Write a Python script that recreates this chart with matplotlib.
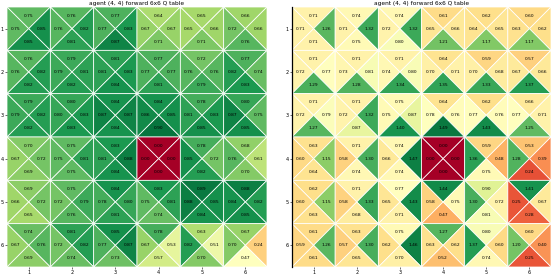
import numpy as np
import matplotlib
matplotlib.use('Agg')
import matplotlib.pyplot as plt
from matplotlib.collections import PolyCollection
from matplotlib.colors import Normalize, TwoSlopeNorm

titulo = 'agent (4, 4) forward 6x6 Q table'
etiquetas = ['1', '2', '3', '4', '5', '6']

# primer panel: arriba, izquierda, derecha, abajo
a_arriba = [[0.75, 0.76, 0.77, 0.64, 0.65, 0.66],
            [0.76, 0.79, 0.81, 0.77, 0.72, 0.77],
            [0.79, 0.80, 0.84, 0.84, 0.78, 0.80],
            [0.70, 0.75, 0.83, 0.00, 0.78, 0.68],
            [0.69, 0.75, 0.84, 0.83, 0.89, 0.88],
            [0.74, 0.81, 0.85, 0.78, 0.63, 0.67]]
a_izq = [[0.75, 0.76, 0.77, 0.67, 0.65, 0.72],
         [0.76, 0.79, 0.81, 0.77, 0.76, 0.82],
         [0.79, 0.80, 0.87, 0.86, 0.81, 0.87],
         [0.67, 0.75, 0.81, 0.00, 0.85, 0.76],
         [0.66, 0.72, 0.78, 0.75, 0.88, 0.84],
         [0.67, 0.72, 0.77, 0.67, 0.82, 0.70]]
a_der = [[0.85, 0.82, 0.83, 0.67, 0.66, 0.66],
         [0.82, 0.81, 0.83, 0.77, 0.76, 0.74],
         [0.82, 0.83, 0.87, 0.85, 0.83, 0.75],
         [0.72, 0.81, 0.88, 0.00, 0.72, 0.61],
         [0.72, 0.79, 0.80, 0.81, 0.85, 0.82],
         [0.76, 0.82, 0.87, 0.53, 0.51, 0.24]]
a_abajo = [[0.85, 0.81, 0.87, 0.71, 0.71, 0.76],
           [0.82, 0.82, 0.84, 0.81, 0.79, 0.83],
           [0.82, 0.83, 0.84, 0.90, 0.85, 0.85],
           [0.69, 0.75, 0.84, 0.00, 0.82, 0.70],
           [0.65, 0.76, 0.81, 0.74, 0.84, 0.85],
           [0.69, 0.74, 0.73, 0.57, 0.70, 0.47]]

# segundo panel
b_arriba = [[0.71, 0.74, 0.74, 0.61, 0.62, 0.60],
            [0.71, 0.71, 0.71, 0.64, 0.59, 0.57],
            [0.71, 0.71, 0.75, 0.64, 0.62, 0.66],
            [0.63, 0.71, 0.74, 0.00, 0.59, 0.53],
            [0.62, 0.71, 0.77, 1.44, 0.90, 1.41],
            [0.61, 0.63, 0.75, 1.27, 0.80, 0.60]]
b_izq = [[0.71, 0.71, 0.72, 0.65, 0.64, 0.63],
         [0.72, 0.73, 0.74, 0.70, 0.70, 0.67],
         [0.72, 0.72, 0.75, 0.78, 0.77, 0.77],
         [0.60, 0.58, 0.66, 0.00, 1.36, 1.28],
         [0.60, 0.58, 0.65, 0.58, 1.30, 0.25],
         [0.59, 0.57, 0.62, 0.63, 1.37, 1.20]]
b_der = [[1.26, 1.32, 1.32, 0.66, 0.65, 0.62],
         [0.77, 0.81, 0.80, 0.71, 0.68, 0.66],
         [0.79, 1.32, 0.87, 0.76, 0.76, 0.71],
         [1.15, 1.30, 1.47, 0.00, 0.48, 0.39],
         [1.15, 1.33, 1.43, 0.75, 0.72, 0.67],
         [1.26, 1.30, 1.46, 0.62, 0.60, 0.40]]
b_abajo = [[0.71, 0.75, 0.80, 1.21, 1.17, 1.17],
           [1.29, 1.28, 1.34, 1.35, 1.33, 1.37],
           [1.27, 0.87, 1.40, 1.49, 1.43, 1.25],
           [0.64, 0.74, 0.74, 0.00, 0.75, 0.24],
           [0.63, 0.68, 0.71, 0.47, 0.81, 0.28],
           [0.61, 0.65, 0.70, 0.52, 0.74, 0.25]]


def dibujar(ax, arriba, izq, der, abajo, norma):
    grupos = [np.array(arriba), np.array(izq), np.array(der), np.array(abajo)]
    # desplazamiento del texto dentro de cada celda, por direccion
    desp = [(0, -0.3), (-0.3, 0), (0.3, 0), (0, 0.3)]
    tris = []
    vals = []
    for f in range(6):
        for c in range(6):
            ul = (c, f)
            ur = (c + 1, f)
            ll = (c, f + 1)
            lr = (c + 1, f + 1)
            m = (c + 0.5, f + 0.5)
            formas = [[ul, ur, m], [ul, ll, m], [ur, lr, m], [ll, lr, m]]
            for i in range(4):
                tris.append(formas[i])
                vals.append(grupos[i][f, c])
                ax.text(c + 0.5 + desp[i][0], f + 0.5 + desp[i][1],
                        '%.2f' % grupos[i][f, c], ha='center', va='center',
                        fontsize=3.2, color='black')
    # la celda terminal (valor 0) va siempre en rojo oscuro
    mapa = plt.get_cmap('RdYlGn').with_extremes(bad='#a50026')
    vals = np.ma.masked_equal(np.array(vals), 0)
    pc = PolyCollection(tris, array=vals, cmap=mapa, norm=norma,
                        edgecolors='white', linewidths=0.55)
    ax.add_collection(pc)
    ax.set_xlim(0, 6)
    ax.set_ylim(6, 0)
    ax.set_xticks(np.arange(6) + 0.5)
    ax.set_yticks(np.arange(6) + 0.5)
    ax.set_xticklabels(etiquetas, fontsize=3.5)
    ax.set_yticklabels(etiquetas, fontsize=3.5)
    ax.tick_params(length=1.5, width=0.4, pad=1)
    ax.set_title(titulo, fontsize=4.2, pad=1.5)


fig = plt.figure(figsize=(5.52, 2.74), dpi=100)
ax1 = fig.add_axes([7 / 552, 7 / 274, 260 / 552, 260 / 274])
ax2 = fig.add_axes([292 / 552, 7 / 274, 259 / 552, 260 / 274])

dibujar(ax1, a_arriba, a_izq, a_der, a_abajo,
        TwoSlopeNorm(vmin=-0.415, vcenter=0.47, vmax=0.925))
dibujar(ax2, b_arriba, b_izq, b_der, b_abajo, Normalize(0, 1.55))

for lado in ['top', 'right', 'bottom', 'left']:
    ax1.spines[lado].set_visible(False)
for lado in ['top', 'right', 'bottom']:
    ax2.spines[lado].set_visible(False)
ax2.spines['left'].set_linewidth(0.9)

fig.savefig('out.png', dpi=100)
